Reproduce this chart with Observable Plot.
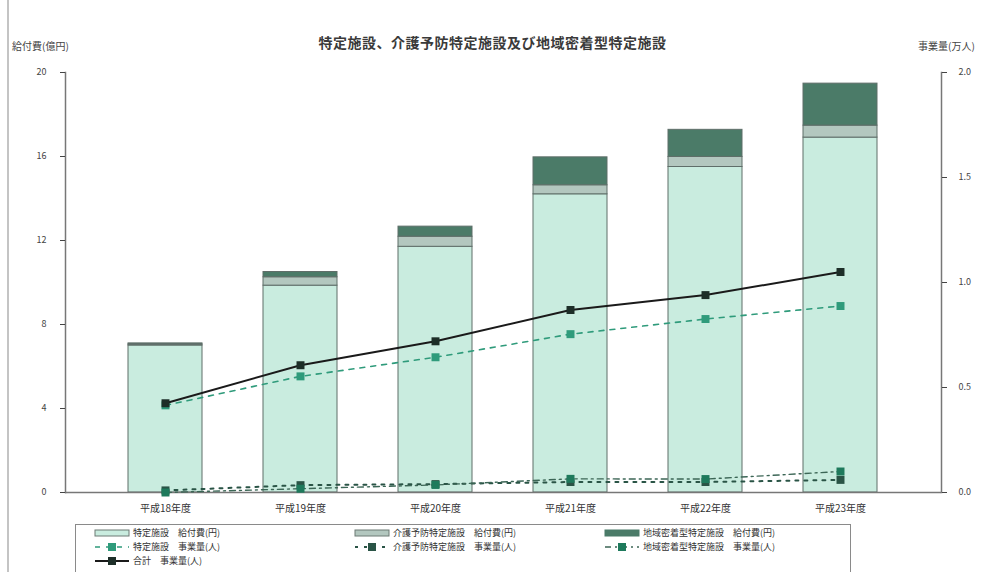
<!DOCTYPE html>
<html><head><meta charset="utf-8">
<script src="https://cdn.jsdelivr.net/npm/d3@7"></script>
<script src="https://cdn.jsdelivr.net/npm/@observablehq/plot@0.6"></script>
<style>
body{margin:0;background:#fff;font-family:"Noto Sans CJK JP","Noto Sans",sans-serif;color:#333;}
#wrap{position:relative;width:985px;height:572px;overflow:hidden;}
#edge{position:absolute;left:7px;top:0;width:2px;height:572px;background:#c4c4c4;}
#title{position:absolute;left:0;width:985px;top:32px;text-align:center;font-size:14px;font-weight:bold;color:#3a3a3a;letter-spacing:0.5px;}
.alab{position:absolute;top:38px;font-size:10px;color:#444;}
#chart{position:absolute;left:0;top:0;}
#legend{position:absolute;left:75px;top:524px;width:774px;height:52px;border:1.5px solid #8a8a8a;background:#fff;}
.li{position:absolute;font-size:9px;line-height:11px;height:11px;color:#333;white-space:pre;display:flex;align-items:center;}
.li svg{margin-right:3px;}
</style></head>
<body>
<div id="wrap">
  <div id="edge"></div>
  <div id="chart"></div>
  <div id="title">特定施設、介護予防特定施設及び地域密着型特定施設</div>
  <div class="alab" style="left:12px;">給付費(億円)</div>
  <div class="alab" style="left:918px;">事業量(万人)</div>
  <div id="legend"></div>
</div>
<script>
const years = ["平成18年度","平成19年度","平成20年度","平成21年度","平成22年度","平成23年度"];
// 給付費(億円)
const kyufuTokutei = [7.0, 9.85, 11.7, 14.2, 15.5, 16.9];
const kyufuYobou   = [0.05, 0.4, 0.48, 0.43, 0.48, 0.57];
const kyufuChiiki  = [0.05, 0.25, 0.48, 1.33, 1.29, 2.0];
// 事業量(万人)
const jigyoTokutei = [0.415, 0.553, 0.644, 0.754, 0.826, 0.888];
const jigyoYobou   = [0.01, 0.035, 0.04, 0.05, 0.05, 0.06];
const jigyoChiiki  = [0.0, 0.018, 0.036, 0.065, 0.064, 0.1];
const jigyoTotal   = [0.425, 0.606, 0.72, 0.869, 0.94, 1.05];
const leftTicks = [0, 4, 8, 12, 16, 20];
const rightTicks = [0, 0.5, 1.0, 1.5, 2.0];

const barSeries = ["特定施設　給付費(円)","介護予防特定施設　給付費(円)","地域密着型特定施設　給付費(円)"];
const barColors = ["#c9ecdf","#b3c7bf","#4b7b68"];
const barValues = [kyufuTokutei, kyufuYobou, kyufuChiiki];
const barData = [];
barSeries.forEach((s,i)=>years.forEach((y,j)=>barData.push({year:y, series:s, value:barValues[i][j]})));

const toLeft = v => v * 10; // right axis (0–2.0) mapped to left (0–20)
const rows = (arr) => years.map((y,j)=>({year:y, v:arr[j]}));

const lineSpecs = [
  {name:"特定施設　事業量(人)", data:rows(jigyoTokutei), stroke:"#2f9b7b", dash:"5,6", fill:"#2f9b7b", w:1.6},
  {name:"介護予防特定施設　事業量(人)", data:rows(jigyoYobou), stroke:"#2a5446", dash:"3,6", fill:"#2a5446", w:2},
  {name:"地域密着型特定施設　事業量(人)", data:rows(jigyoChiiki), stroke:"#3c6656", dash:"6,4,2,4", fill:"#1e7a5c", w:1.4},
  {name:"合計　事業量(人)", data:rows(jigyoTotal), stroke:"#1a1a1a", dash:null, fill:"#1d2e28", w:2}
];

const marks = [
  Plot.barY(barData, {x:"year", y:"value", fill:"series", stroke:"#5f6e69", strokeWidth:1}),
  Plot.ruleY([0], {stroke:"#777", strokeWidth:1.5}),
  Plot.frame({anchor:"left", stroke:"#777", strokeWidth:1.5}),
  Plot.frame({anchor:"right", stroke:"#777", strokeWidth:1.5}),
  Plot.axisY({anchor:"left", label:null, ticks:leftTicks, tickSize:5, tickPadding:14, fontSize:9, tickFormat:d=>d, color:"#444"}),
  Plot.axisY({anchor:"right", label:null, ticks:rightTicks.map(toLeft), tickSize:5, tickPadding:12, fontSize:9, tickFormat:d=>(d/10).toFixed(1), color:"#444"}),
  Plot.axisX({anchor:"bottom", label:null, tickSize:0, tickPadding:12, fontSize:10, color:"#333"})
];
for (const s of lineSpecs) {
  marks.push(Plot.line(s.data, {x:"year", y:d=>toLeft(d.v), stroke:s.stroke, strokeWidth:s.w, strokeDasharray:s.dash}));
  marks.push(Plot.dot(s.data, {x:"year", y:d=>toLeft(d.v), symbol:"square", r:4.5, fill:s.fill, stroke:"none"}));
}

const chart = Plot.plot({
  width:985, height:520,
  marginTop:72, marginBottom:28, marginLeft:65, marginRight:44,
  style:{background:"transparent", fontFamily:"'Noto Sans CJK JP', sans-serif"},
  x:{domain:years, padding:0.45, axis:null, label:null},
  y:{domain:[0,20], axis:null, label:null},
  color:{domain:barSeries, range:barColors},
  marks
});
document.getElementById("chart").appendChild(chart);

// legend
const legend = document.getElementById("legend");
function addItem(left, top, swatch, label){
  const d = document.createElement("div");
  d.className = "li";
  d.style.left = left+"px"; d.style.top = top+"px";
  d.innerHTML = swatch + "<span>"+label+"</span>";
  legend.appendChild(d);
}
const rectSw = (fill, stroke) => `<svg width="36" height="10"><rect x="1" y="2" width="34" height="6" fill="${fill}" stroke="${stroke}" stroke-width="1"/></svg>`;
const lineSw = (s) => `<svg width="36" height="10"><line x1="1" y1="5" x2="35" y2="5" stroke="${s.stroke}" stroke-width="${s.w}" ${s.dash?`stroke-dasharray="${s.dash}"`:""}/><rect x="14" y="1" width="8" height="8" fill="${s.fill}"/></svg>`;
const cols = [18, 278, 528];
const rowsY = [2, 16, 30];
barSeries.forEach((s,i)=>addItem(cols[i], rowsY[0], rectSw(barColors[i], i==2?barColors[i]:"#6d7a75"), s));
lineSpecs.slice(0,3).forEach((s,i)=>addItem(cols[i], rowsY[1], lineSw(s), s.name));
addItem(cols[0], rowsY[2], lineSw(lineSpecs[3]), lineSpecs[3].name);
</script>
</body></html>
